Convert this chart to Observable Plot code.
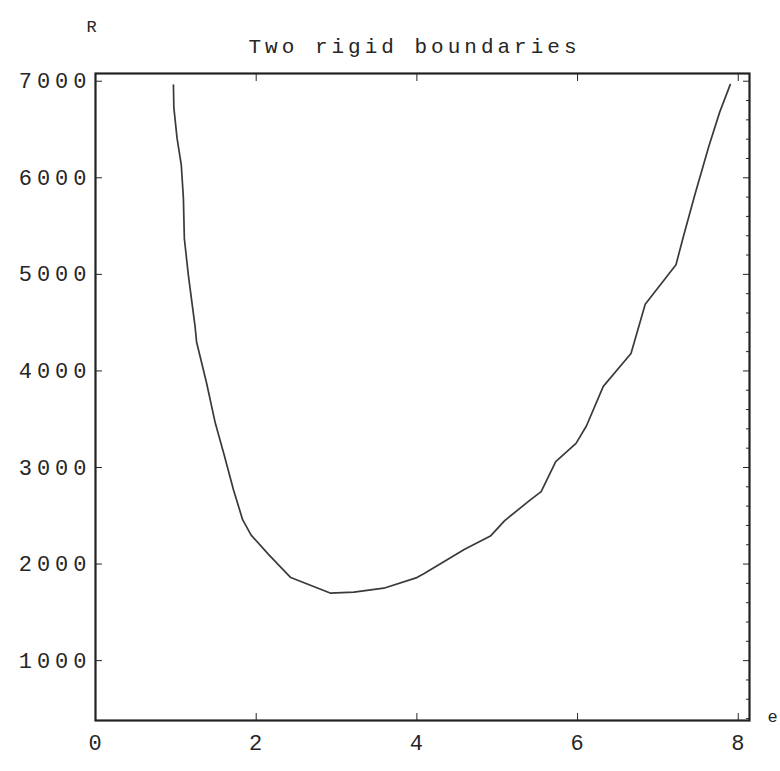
<!DOCTYPE html>
<html>
<head>
<meta charset="utf-8">
<script src="https://cdn.jsdelivr.net/npm/d3@7"></script>
<script src="https://cdn.jsdelivr.net/npm/@observablehq/plot@0.6"></script>
<style>
  html, body { margin: 0; padding: 0; background: #fff; }
</style>
</head>
<body>
<div id="chart"></div>
<script>
// Data (x = horizontal value, R = Rayleigh-like value)
const xValues = [0.97, 0.975, 1.015, 1.068, 1.094, 1.106, 1.156, 1.238, 1.258, 1.381, 1.491, 1.605, 1.717, 1.831, 1.937, 2.153, 2.43, 2.92, 3.216, 3.588, 4.0, 4.086, 4.589, 4.915, 5.093, 5.42, 5.547, 5.728, 5.981, 6.11, 6.32, 6.665, 6.842, 7.225, 7.32, 7.458, 7.635, 7.769, 7.9];
const rValues = [6960, 6730, 6410, 6130, 5790, 5370, 4990, 4470, 4300, 3880, 3460, 3120, 2770, 2460, 2300, 2100, 1860, 1700, 1710, 1750, 1860, 1900, 2150, 2290, 2450, 2670, 2750, 3060, 3250, 3430, 3840, 4180, 4690, 5100, 5400, 5820, 6330, 6680, 6965];

const xTicks = [0, 2, 4, 6, 8];
const yTicks = [1000, 2000, 3000, 4000, 5000, 6000, 7000];
const yMinorTicks = d3.range(400, 7001, 200).filter(v => v % 1000 !== 0);

const titleText = "Two rigid boundaries";
const yLabelText = "R";
const xLabelText = "e";

const data = xValues.map((x, i) => ({x, r: rValues[i]}));

const ink = "#262626";
const font = "'Liberation Mono', 'DejaVu Sans Mono', monospace";

const chart = Plot.plot({
  width: 780,
  height: 771,
  marginLeft: 95,
  marginRight: 31,
  marginTop: 73,
  marginBottom: 51,
  style: {background: "#fff", color: ink, fontFamily: font, fontSize: "22px", letterSpacing: "5px"},
  x: {domain: [0, 8.14], axis: null},
  y: {domain: [380, 7080], axis: null},
  marks: [
    // labels
    Plot.axisY(yTicks, {anchor: "left", tickSize: 0, tickPadding: 4, tickFormat: d3.format("d"), label: null, fill: ink, fontSize: 22, fontWeight: 500}),
    Plot.axisX(xTicks, {anchor: "bottom", tickSize: 0, tickPadding: 14, tickFormat: d3.format("d"), label: null, fill: ink, fontSize: 22, fontWeight: 500, dx: 2}),
    // inward ticks
    Plot.axisY(yTicks, {anchor: "left", tickSize: 7, insetLeft: 7, fill: "none", stroke: ink, label: null}),
    Plot.axisY(yTicks, {anchor: "right", tickSize: 7, insetRight: 7, fill: "none", stroke: ink, label: null}),
    Plot.axisY(yMinorTicks, {anchor: "right", tickSize: 4, insetRight: 4, fill: "none", stroke: ink, label: null}),
    Plot.axisX(xTicks, {anchor: "bottom", tickSize: 7, insetBottom: 7, fill: "none", stroke: ink, label: null}),
    Plot.axisX(xTicks, {anchor: "top", tickSize: 7, insetTop: 7, fill: "none", stroke: ink, label: null}),
    Plot.frame({stroke: "#222", strokeWidth: 2.2}),
    Plot.line(data, {x: "x", y: "r", stroke: "#3a3a3a", strokeWidth: 1.7}),
    Plot.text([titleText], {frameAnchor: "top", dx: -8, dy: -27, lineAnchor: "middle", fontSize: 21, fill: ink, fontFamily: font}),
    Plot.text([yLabelText], {frameAnchor: "top-left", dx: -9, dy: -47, lineAnchor: "middle", fontSize: 17, fill: ink, fontFamily: font}),
    Plot.text([xLabelText], {frameAnchor: "bottom-right", dx: 18, dy: -4, textAnchor: "start", lineAnchor: "middle", fontSize: 17, fill: ink, fontFamily: font})
  ]
});
// title spacing slightly tighter than tick labels
d3.select(chart).selectAll("text").filter(function() { return this.textContent === titleText; })
  .style("letter-spacing", "4px");
d3.select(chart).selectAll("text").filter(function() { return this.textContent === xLabelText || this.textContent === yLabelText; })
  .style("letter-spacing", "0px");
document.getElementById("chart").appendChild(chart);
</script>
</body>
</html>
